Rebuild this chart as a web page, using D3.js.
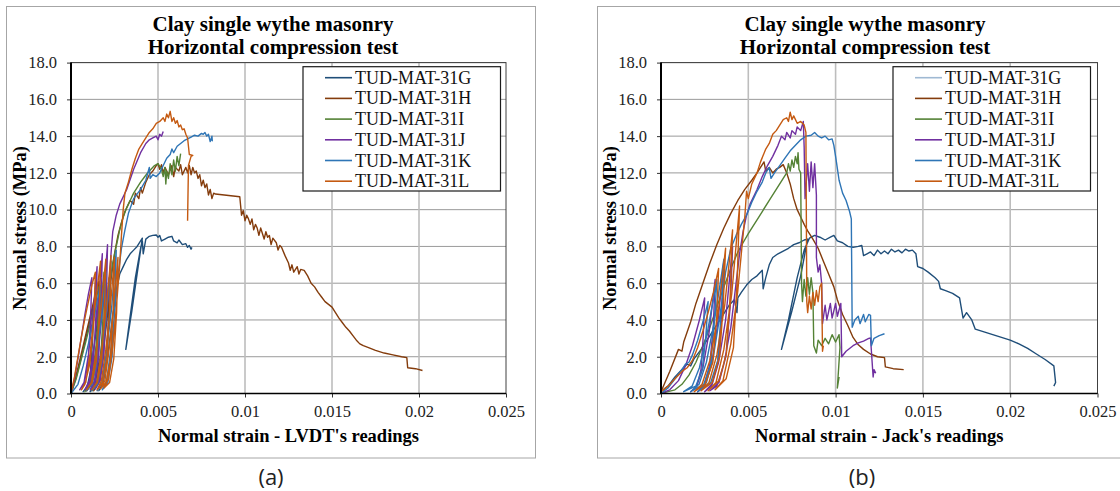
<!DOCTYPE html>
<html><head><meta charset="utf-8">
<script src="https://cdn.jsdelivr.net/npm/d3@7/dist/d3.min.js"></script>
<style>body{margin:0;background:#fff}svg{display:block}</style>
</head><body>
<svg id="c" width="1120" height="491"></svg>
<script>
// ---------- data ----------
const seriesNames = ["TUD-MAT-31G","TUD-MAT-31H","TUD-MAT-31I","TUD-MAT-31J","TUD-MAT-31K","TUD-MAT-31L"];
const seriesColors = ["#1f4e79","#843c0c","#548235","#7030a0","#2e75b6","#c55a11"];
const xTickValues = [0,0.005,0.01,0.015,0.02,0.025];
const xTickLabels = ["0","0.005","0.01","0.015","0.02","0.025"];
const yTickValues = [0,2,4,6,8,10,12,14,16,18];
const yTickLabels = ["0.0","2.0","4.0","6.0","8.0","10.0","12.0","14.0","16.0","18.0"];
const titleLines = ["Clay single wythe masonry","Horizontal compression test"];
const xTitles = ["Normal strain - LVDT's readings","Normal strain - Jack's readings"];
const yTitle = "Normal stress (MPa)";
const panelLabels = ["(a)","(b)"];

// (a) LVDT readings  [strain, stress MPa]
const a_G = [[0,0],[0.0003,0.9],[0.0006,2.0],[0.0009,3.2],[0.0011,4.0],[0.0013,4.8],[0.00124,2.9],[0.00112,1.2],[0.00094,0.4],[0.0007,0.1],[0.00095,0.4],[0.0012,1.6],[0.00145,3.4],[0.0017,5.6],[0.00164,3.4],[0.00152,1.4],[0.00134,0.45],[0.0011,0.1],[0.00138,0.5],[0.00165,1.8],[0.00193,3.8],[0.0022,6.3],[0.00214,3.8],[0.00202,1.6],[0.00184,0.5],[0.0016,0.15],[0.00185,0.6],[0.0021,2.0],[0.0024,4.2],[0.0026,5.6],[0.0028,6.5],[0.0030,6.9],[0.0032,7.3],[0.0034,7.6],[0.0036,7.8],[0.0038,8.0],[0.0040,8.3],[0.0041,8.45],[0.0038,6.5],[0.0035,4.5],[0.00315,2.4],[0.0034,4.2],[0.0037,6.3],[0.0040,7.9],[0.0041,8.3],[0.00415,7.6],[0.0043,8.4],[0.0045,8.55],[0.0047,8.6],[0.0049,8.62],[0.0050,8.5],[0.0051,8.6],[0.0052,8.3],[0.0054,8.4],[0.0056,8.5],[0.0058,8.55],[0.0059,8.3],[0.0061,8.2],[0.0062,8.35],[0.0064,8.1],[0.0066,8.15],[0.0067,7.95],[0.0068,8.05],[0.0069,7.85],[0.00695,7.95]];
const a_H = [[0,0],[0.0003,1.0],[0.0006,2.2],[0.0009,3.4],[0.0012,4.6],[0.0014,5.4],[0.0016,6.1],[0.00153,3.7],[0.00139,1.5],[0.00118,0.5],[0.0009,0.15],[0.00118,0.6],[0.00145,2.0],[0.00172,4.1],[0.0020,6.9],[0.00193,4.2],[0.00179,1.7],[0.00158,0.55],[0.0013,0.15],[0.00158,0.6],[0.00185,2.2],[0.0021,4.3],[0.0023,6.2],[0.0025,7.6],[0.0027,8.6],[0.0029,9.3],[0.0031,9.9],[0.0033,10.3],[0.0034,10.5],[0.0036,10.3],[0.0037,10.9],[0.0039,10.6],[0.0040,11.2],[0.0041,10.9],[0.0043,11.5],[0.0045,11.9],[0.0047,12.1],[0.0049,12.4],[0.0050,12.5],[0.0051,12.2],[0.0052,12.45],[0.0053,12.0],[0.0054,12.3],[0.0056,11.9],[0.0058,12.4],[0.0059,11.8],[0.0060,12.3],[0.0062,12.1],[0.0063,12.45],[0.0064,11.9],[0.0066,12.3],[0.0067,12.0],[0.0068,12.4],[0.0069,11.9],[0.0070,12.3],[0.0071,12.0],[0.0072,12.1],[0.0073,11.7],[0.0074,11.9],[0.0075,11.3],[0.0076,11.6],[0.0077,11.2],[0.0078,11.4],[0.0079,10.8],[0.0080,11.1],[0.0081,10.6],[0.0082,10.9],[0.0083,10.85],[0.0097,10.7],[0.0098,9.7],[0.0099,9.95],[0.0100,9.4],[0.0101,9.7],[0.0102,9.5],[0.0103,9.2],[0.0104,9.5],[0.0105,8.9],[0.0106,9.2],[0.0107,9.0],[0.0108,8.6],[0.0109,9.0],[0.0110,8.7],[0.0111,8.4],[0.0112,8.8],[0.0113,8.5],[0.0114,8.6],[0.0115,8.1],[0.0116,8.45],[0.0118,8.2],[0.0119,7.8],[0.0120,8.05],[0.0121,7.95],[0.0123,7.5],[0.0125,7.1],[0.0126,6.7],[0.0127,7.0],[0.0128,6.6],[0.0130,6.9],[0.0131,6.5],[0.0132,6.75],[0.0134,6.7],[0.0136,6.4],[0.0138,6.0],[0.0140,5.8],[0.0142,5.5],[0.0144,5.25],[0.0146,5.0],[0.0148,4.85],[0.0150,4.7],[0.0152,4.4],[0.0154,4.1],[0.0156,3.85],[0.0158,3.6],[0.0160,3.4],[0.0162,3.15],[0.0164,2.9],[0.0166,2.7],[0.0168,2.6],[0.0171,2.5],[0.0175,2.35],[0.0180,2.2],[0.0185,2.1],[0.0190,2.0],[0.0193,1.95],[0.01935,1.4],[0.0198,1.35],[0.0202,1.25]];
const a_I = [[0,0],[0.0003,0.8],[0.0006,1.9],[0.0009,3.0],[0.0012,4.2],[0.0014,5.0],[0.0016,5.8],[0.00152,3.5],[0.00136,1.4],[0.00112,0.45],[0.0008,0.1],[0.00108,0.5],[0.00135,1.9],[0.00163,3.9],[0.0019,6.6],[0.00183,4.0],[0.00169,1.6],[0.00148,0.5],[0.0012,0.15],[0.00148,0.6],[0.00175,2.1],[0.0020,4.1],[0.0022,5.8],[0.0024,7.1],[0.0026,8.0],[0.0028,8.9],[0.0030,9.6],[0.0032,10.1],[0.0034,10.5],[0.0036,10.9],[0.0038,11.2],[0.0040,11.5],[0.0042,11.75],[0.0044,12.0],[0.0046,12.2],[0.0048,12.4],[0.0050,12.5],[0.0052,12.2],[0.0053,11.8],[0.0054,12.3],[0.00545,11.4],[0.0055,12.1],[0.0056,11.7],[0.0057,12.5],[0.0058,11.9],[0.0059,12.7],[0.0060,12.1],[0.0061,12.9],[0.0062,12.4],[0.0063,13.05]];
const a_J = [[0,0],[0.0002,0.8],[0.0004,1.9],[0.0006,3.1],[0.0008,4.3],[0.0010,5.4],[0.0012,6.3],[0.00112,3.9],[0.00097,1.6],[0.00075,0.5],[0.0005,0.2],[0.00075,0.6],[0.0010,2.1],[0.00125,4.2],[0.0015,6.9],[0.00143,4.2],[0.00129,1.8],[0.00108,0.6],[0.0008,0.2],[0.00105,0.7],[0.0013,2.4],[0.00155,4.8],[0.0018,7.6],[0.00173,4.6],[0.00159,2.0],[0.00138,0.6],[0.0011,0.2],[0.00135,0.7],[0.0016,2.5],[0.00185,5.0],[0.0021,8.1],[0.00203,5.0],[0.00189,2.1],[0.00168,0.7],[0.0014,0.25],[0.00165,0.8],[0.0019,2.7],[0.00215,5.4],[0.0023,7.6],[0.0024,8.8],[0.0026,9.7],[0.0028,10.3],[0.0032,11.1],[0.0036,12.2],[0.0040,13.1],[0.0043,13.6],[0.0045,13.8],[0.0047,13.9],[0.0049,14.0],[0.0050,13.8],[0.0051,14.1],[0.0052,14.0],[0.0053,14.25]];
const a_K = [[0,0],[0.0004,0.5],[0.0007,1.5],[0.0010,2.7],[0.0013,4.0],[0.0015,5.0],[0.0017,5.9],[0.0016,3.6],[0.00145,1.5],[0.00122,0.5],[0.0009,0.15],[0.00118,0.5],[0.00145,1.9],[0.00172,3.9],[0.0020,6.6],[0.00192,4.0],[0.00176,1.7],[0.00152,0.5],[0.0012,0.15],[0.00148,0.6],[0.00175,2.1],[0.00203,4.3],[0.0023,7.2],[0.00222,4.4],[0.00206,1.8],[0.00182,0.6],[0.0015,0.15],[0.00178,0.6],[0.00205,2.3],[0.00233,4.6],[0.0026,7.8],[0.00252,4.7],[0.00236,2.0],[0.00212,0.6],[0.0018,0.2],[0.00205,0.7],[0.0023,2.5],[0.0025,4.3],[0.0027,6.4],[0.0029,7.9],[0.0031,8.9],[0.0033,9.8],[0.0036,10.6],[0.0040,11.1],[0.0043,11.6],[0.0045,12.3],[0.00455,11.7],[0.0047,11.9],[0.0049,11.8],[0.0051,12.0],[0.0053,12.4],[0.0055,12.8],[0.0057,13.0],[0.0058,13.3],[0.0059,13.1],[0.0061,13.45],[0.0063,13.6],[0.0065,13.75],[0.0067,13.85],[0.0069,13.95],[0.0071,14.05],[0.0073,14.0],[0.0075,14.15],[0.0076,14.1],[0.0077,14.2],[0.0078,14.0],[0.0079,14.1],[0.0080,13.7],[0.0081,14.0],[0.00812,13.75],[0.00805,13.9]];
const a_L = [[0,0],[0.0002,0.9],[0.0004,2.0],[0.0006,3.1],[0.0008,4.1],[0.0010,5.0],[0.0012,5.9],[0.0014,6.6],[0.00132,4.0],[0.0011,1.7],[0.0008,0.5],[0.0006,0.2],[0.00085,0.6],[0.0011,2.2],[0.00135,4.5],[0.0017,7.2],[0.00162,4.3],[0.00146,1.8],[0.00122,0.6],[0.0009,0.2],[0.00118,0.6],[0.00145,2.3],[0.00172,4.6],[0.0020,7.3],[0.00192,4.4],[0.00176,1.8],[0.00152,0.6],[0.0012,0.2],[0.00148,0.6],[0.00175,2.3],[0.00203,4.7],[0.0023,7.5],[0.00222,4.5],[0.00206,1.9],[0.00182,0.6],[0.0015,0.2],[0.00175,0.7],[0.0020,2.4],[0.00225,4.6],[0.0025,7.4],[0.00242,4.4],[0.00226,1.8],[0.00202,0.6],[0.0017,0.25],[0.00195,0.7],[0.0022,2.5],[0.00245,4.8],[0.0027,7.4],[0.00262,4.4],[0.00246,1.9],[0.00222,0.6],[0.0019,0.3],[0.00215,0.8],[0.0024,2.6],[0.0026,4.6],[0.0028,7.0],[0.0029,8.6],[0.0030,10.0],[0.0031,10.9],[0.0033,11.5],[0.0035,12.2],[0.0037,12.8],[0.0039,13.3],[0.0041,13.6],[0.0043,13.9],[0.0045,14.2],[0.0047,14.4],[0.0049,14.7],[0.0051,14.8],[0.0053,15.0],[0.0054,14.8],[0.0055,15.2],[0.0056,15.0],[0.0057,15.35],[0.0058,14.8],[0.0059,15.0],[0.0060,14.7],[0.0061,14.85],[0.0062,14.5],[0.0063,14.6],[0.0064,14.35],[0.0065,14.4],[0.0066,14.1],[0.0067,13.9],[0.0068,13.0],[0.0070,12.95],[0.0069,12.9],[0.00675,12.4],[0.0067,9.4]];

// (b) Jack's readings
const b_G = [[0,0.1],[0.0004,0.4],[0.0008,0.9],[0.0012,1.3],[0.0015,1.6],[0.0017,1.5],[0.0019,1.9],[0.0023,2.4],[0.0027,3.0],[0.0031,3.6],[0.0035,4.2],[0.0039,4.8],[0.0042,5.1],[0.00435,4.4],[0.0044,5.2],[0.0046,5.5],[0.0049,5.9],[0.0052,6.2],[0.0055,6.4],[0.0058,6.7],[0.00585,5.7],[0.0060,6.3],[0.0062,7.0],[0.0064,7.4],[0.0067,7.6],[0.0070,7.75],[0.0073,7.9],[0.0076,8.1],[0.0079,8.2],[0.0082,8.35],[0.0084,8.4],[0.0080,6.4],[0.0075,4.5],[0.0069,2.4],[0.0073,4.0],[0.0078,6.3],[0.0082,7.8],[0.0085,8.45],[0.0088,8.6],[0.0091,8.5],[0.0094,8.35],[0.0097,8.5],[0.0099,8.6],[0.0101,8.3],[0.0104,8.2],[0.0107,8.0],[0.0110,7.95],[0.0113,8.0],[0.0115,8.05],[0.0116,7.5],[0.0118,7.6],[0.0120,7.7],[0.0122,7.5],[0.0124,7.8],[0.0126,7.6],[0.0128,7.75],[0.0130,7.6],[0.0132,7.85],[0.0134,7.7],[0.0136,7.8],[0.0138,7.65],[0.0140,7.85],[0.0142,7.75],[0.0144,7.8],[0.0146,7.6],[0.0147,6.9],[0.0150,6.8],[0.0153,6.6],[0.0157,6.3],[0.0159,6.1],[0.0160,5.7],[0.0163,5.6],[0.0167,5.45],[0.0171,5.2],[0.0173,4.1],[0.0175,4.4],[0.0178,4.0],[0.0180,3.5],[0.0185,3.35],[0.0190,3.2],[0.0195,3.05],[0.0200,2.9],[0.0205,2.7],[0.0210,2.45],[0.0215,2.15],[0.0220,1.85],[0.0225,1.5],[0.0226,0.6],[0.0225,0.4]];
const b_H = [[0,0.1],[0.0005,1.2],[0.0010,2.4],[0.0012,2.3],[0.0013,2.8],[0.0017,3.9],[0.0020,4.9],[0.0024,6.0],[0.0028,7.1],[0.0032,8.1],[0.0036,9.0],[0.0040,9.8],[0.0044,10.5],[0.0048,11.1],[0.0052,11.6],[0.0055,12.0],[0.0057,12.3],[0.0059,12.6],[0.0060,12.1],[0.0062,12.3],[0.0064,12.0],[0.0066,12.2],[0.0068,12.3],[0.0070,12.45],[0.0072,12.0],[0.0074,11.4],[0.0076,10.6],[0.0078,10.0],[0.0080,9.6],[0.0082,9.2],[0.0084,8.85],[0.0087,8.4],[0.0090,7.9],[0.0093,7.2],[0.0096,6.5],[0.0099,5.8],[0.0101,5.1],[0.0104,4.3],[0.0107,3.7],[0.0110,3.05],[0.0113,2.65],[0.0116,2.4],[0.0120,2.15],[0.0124,2.0],[0.0128,1.95],[0.01285,1.45],[0.0133,1.35],[0.0139,1.3]];
const b_I = [[0,0],[0.0004,0.1],[0.0008,0.2],[0.0012,0.5],[0.0016,1.0],[0.0020,1.7],[0.0024,2.6],[0.0028,3.6],[0.0032,4.7],[0.0036,5.8],[0.0040,6.8],[0.0044,7.7],[0.0047,8.2],[0.0050,8.7],[0.0054,9.3],[0.0058,9.9],[0.0062,10.5],[0.0066,11.1],[0.0070,11.7],[0.0072,12.0],[0.0073,12.5],[0.0074,12.1],[0.0075,12.7],[0.0076,12.3],[0.0077,12.9],[0.0078,12.5],[0.00785,13.1],[0.0079,12.2],[0.0080,12.0],[0.00805,6.0],[0.0081,5.0],[0.0082,6.2],[0.0083,5.3],[0.0084,6.3],[0.0085,5.4],[0.0086,6.3],[0.0087,5.5],[0.00875,2.6],[0.0089,2.2],[0.0090,2.9],[0.0092,2.6],[0.0094,3.0],[0.0096,2.7],[0.0098,3.2],[0.0100,2.8],[0.0102,3.2],[0.01025,2.5],[0.0101,0.3],[0.0102,0.9]];
const b_J = [[0,0],[0.0005,0.2],[0.0010,0.7],[0.0014,1.5],[0.0018,2.6],[0.0022,4.0],[0.0025,5.2],[0.00242,3.1],[0.00229,1.3],[0.00206,0.4],[0.0017,0.1],[0.00205,0.4],[0.0024,1.4],[0.00275,3.3],[0.0031,6.2],[0.0030,3.7],[0.0028,1.6],[0.0025,0.5],[0.0021,0.1],[0.0025,0.4],[0.0029,1.6],[0.00325,3.8],[0.0036,7.2],[0.00349,4.3],[0.00327,1.8],[0.00294,0.55],[0.0025,0.1],[0.0029,0.4],[0.0033,1.7],[0.0037,4.0],[0.0041,8.0],[0.00397,4.8],[0.00371,2.0],[0.00332,0.6],[0.0028,0.15],[0.0032,0.4],[0.0036,1.6],[0.0040,3.6],[0.0043,6.0],[0.0045,7.6],[0.0047,8.8],[0.0049,9.7],[0.0051,10.3],[0.0055,11.1],[0.0058,11.8],[0.0061,12.4],[0.0064,12.9],[0.0067,13.5],[0.0069,14.0],[0.0071,13.8],[0.0072,14.2],[0.0074,13.9],[0.0075,14.3],[0.0077,14.1],[0.0078,14.5],[0.0080,14.3],[0.00815,14.8],[0.0082,13.4],[0.00825,10.6],[0.0084,12.5],[0.0085,11.0],[0.0086,12.6],[0.0087,11.2],[0.0088,12.5],[0.0089,10.8],[0.0089,7.4],[0.0090,6.6],[0.0091,7.0],[0.0092,6.0],[0.00925,3.8],[0.0094,4.8],[0.0095,4.0],[0.0097,4.9],[0.0098,4.1],[0.0100,4.9],[0.0101,4.2],[0.0103,4.9],[0.01035,2.0],[0.0106,2.3],[0.0108,2.45],[0.0110,2.6],[0.0113,2.75],[0.0116,2.85],[0.0119,3.0],[0.0120,3.02],[0.01215,0.9],[0.0122,1.3],[0.0123,1.1]];
const b_K = [[0,0],[0.0004,0.3],[0.0008,0.8],[0.0012,1.3],[0.0014,1.6],[0.0016,1.7],[0.0018,2.1],[0.0021,2.9],[0.0024,3.9],[0.0027,5.0],[0.00256,3.0],[0.00236,1.3],[0.00199,0.4],[0.0013,0.1],[0.00178,0.4],[0.0022,1.4],[0.00265,3.3],[0.0032,6.2],[0.00305,3.8],[0.00285,1.6],[0.00245,0.5],[0.0017,0.1],[0.00218,0.5],[0.0026,1.7],[0.00305,3.9],[0.0036,7.3],[0.00345,4.4],[0.00325,1.8],[0.00285,0.6],[0.0021,0.1],[0.0026,0.6],[0.0030,2.0],[0.0034,4.4],[0.0037,6.6],[0.0040,7.9],[0.0043,8.6],[0.0046,9.2],[0.0049,9.7],[0.0052,10.4],[0.0055,11.0],[0.0058,11.5],[0.0060,12.0],[0.0062,12.3],[0.0063,11.7],[0.0065,12.0],[0.0068,12.4],[0.0071,12.8],[0.0074,13.2],[0.0077,13.5],[0.0080,13.8],[0.0083,14.0],[0.0086,14.05],[0.0088,14.2],[0.0090,14.0],[0.0092,13.9],[0.0094,14.0],[0.0096,13.8],[0.0098,13.85],[0.0099,13.5],[0.0100,12.9],[0.0102,11.6],[0.0104,10.9],[0.0106,10.5],[0.0108,9.9],[0.0109,9.5],[0.01095,3.6],[0.0111,4.0],[0.0113,4.2],[0.0114,3.8],[0.0116,4.3],[0.0117,3.9],[0.0119,4.3],[0.0120,4.25],[0.01205,2.6],[0.0122,3.0],[0.0125,3.15],[0.0128,3.25]];
const b_L = [[0,0.1],[0.0004,0.4],[0.0008,0.8],[0.0012,1.2],[0.0015,1.4],[0.0018,1.8],[0.0021,2.5],[0.0024,3.4],[0.0027,4.4],[0.0030,5.5],[0.0033,6.8],[0.00319,4.1],[0.00297,1.7],[0.00253,0.5],[0.0019,0.1],[0.00235,0.5],[0.0028,1.8],[0.00325,4.2],[0.0037,7.9],[0.00356,4.7],[0.00335,2.0],[0.00293,0.6],[0.0023,0.15],[0.00275,0.6],[0.0032,2.1],[0.00365,4.8],[0.0041,8.9],[0.00396,5.3],[0.00375,2.2],[0.00333,0.7],[0.0027,0.15],[0.00315,0.6],[0.0036,2.4],[0.00405,5.4],[0.0045,10.2],[0.00436,6.1],[0.00415,2.5],[0.00373,0.8],[0.0031,0.2],[0.00355,0.7],[0.0040,2.7],[0.0044,5.6],[0.0046,7.6],[0.0048,9.6],[0.0049,11.0],[0.0050,10.6],[0.0052,11.4],[0.0055,12.0],[0.0057,12.6],[0.0060,13.3],[0.0062,13.6],[0.0064,14.1],[0.0066,14.3],[0.0068,14.6],[0.0070,14.9],[0.0072,15.0],[0.0073,14.8],[0.0074,15.3],[0.0075,14.9],[0.0076,15.1],[0.0078,14.7],[0.0080,14.8],[0.0082,14.6],[0.0083,14.2],[0.00835,5.0],[0.0084,4.4],[0.0085,5.3],[0.0086,4.6],[0.0087,5.5],[0.0088,4.8],[0.0089,5.6],[0.0090,5.0],[0.0091,5.8],[0.0092,6.0],[0.00925,2.3],[0.0093,2.6]];

const panelA = [a_G,a_H,a_I,a_J,a_K,a_L];
const panelB = [b_G,b_H,b_I,b_J,b_K,b_L];
const legendColorsB = ["#9fb9d3","#843c0c","#548235","#7030a0","#2e75b6","#c55a11"];

// ---------- drawing ----------
const svg = d3.select("#c");
const serif = "'Liberation Serif','Times New Roman',serif";

function panel(cfg){
  const g = svg.append("g");
  g.append("rect").attr("x",cfg.fx).attr("y",6.5).attr("width",cfg.fw).attr("height",451.5)
    .attr("fill","none").attr("stroke","#a6a6a6").attr("stroke-width",1);
  const x = d3.scaleLinear().domain([0,0.025]).range([cfg.pl,cfg.pr]);
  const y = d3.scaleLinear().domain([0,18]).range([393.5,62.6]);
  g.append("g").selectAll("line").data(yTickValues.slice(1)).join("line")
    .attr("x1",cfg.pl).attr("x2",cfg.pr).attr("y1",d=>y(d)).attr("y2",d=>y(d))
    .attr("stroke","#9a9a9a").attr("stroke-width",1);
  g.append("g").selectAll("line").data(xTickValues.slice(1,-1)).join("line")
    .attr("x1",d=>x(d)).attr("x2",d=>x(d)).attr("y1",y(18)).attr("y2",y(0))
    .attr("stroke","#bdbdbd").attr("stroke-width",1.6);
  g.append("rect").attr("x",cfg.pl).attr("y",y(18)).attr("width",cfg.pr-cfg.pl).attr("height",y(0)-y(18))
    .attr("fill","none").attr("stroke","#404040").attr("stroke-width",1);
  const ya = d3.axisLeft(y).tickValues(yTickValues).tickFormat((d,i)=>yTickLabels[i]).tickSize(4).tickPadding(10);
  const xa = d3.axisBottom(x).tickValues(xTickValues).tickFormat((d,i)=>xTickLabels[i]).tickSize(4).tickPadding(8);
  const yg = g.append("g").attr("transform",`translate(${cfg.pl},0)`).call(ya);
  const xg = g.append("g").attr("transform",`translate(0,${y(0)})`).call(xa);
  [yg,xg].forEach(a=>{
    a.select(".domain").remove();
    a.selectAll("line").attr("stroke","#333");
    a.selectAll("text").attr("font-family",serif).attr("font-size",16.5).attr("fill","#222");
  });
  const line = d3.line().x(d=>x(d[0])).y(d=>y(d[1]));
  cfg.data.forEach((s,i)=>{
    g.append("path").datum(s).attr("d",line).attr("fill","none")
      .attr("stroke",seriesColors[i]).attr("stroke-width",1.4).attr("stroke-linejoin","round");
  });
  g.append("line").attr("x1",cfg.pl).attr("x2",cfg.pl).attr("y1",y(18)).attr("y2",y(0)+0.5)
    .attr("stroke","#000").attr("stroke-width",2);
  g.append("line").attr("x1",cfg.pl).attr("x2",cfg.pr).attr("y1",y(0)).attr("y2",y(0))
    .attr("stroke","#000").attr("stroke-width",1.5);
  titleLines.forEach((t,i)=>{
    g.append("text").attr("x",cfg.tc).attr("y",31+i*23).attr("text-anchor","middle")
      .attr("font-family",serif).attr("font-weight","bold").attr("font-size",21).attr("fill","#000").text(t);
  });
  g.append("text").attr("x",(cfg.pl+cfg.pr)/2).attr("y",442).attr("text-anchor","middle")
    .attr("font-family",serif).attr("font-weight","bold").attr("font-size",18.5).text(cfg.xt);
  g.append("text").attr("transform",`translate(${cfg.pl-45},${(y(0)+y(18))/2}) rotate(-90)`)
    .attr("text-anchor","middle").attr("font-family",serif).attr("font-weight","bold").attr("font-size",18.5).text(yTitle);
  const lx = cfg.pl+232, ly = 66.7;
  const lg = g.append("g");
  lg.append("rect").attr("x",lx).attr("y",ly).attr("width",197.5).attr("height",124.3)
    .attr("fill","#fff").attr("stroke","#1a1a1a").attr("stroke-width",1.2);
  seriesNames.forEach((n,i)=>{
    const cy = 77.7 + i*20.7;
    lg.append("line").attr("x1",cfg.pl+254).attr("x2",cfg.pl+281).attr("y1",cy).attr("y2",cy)
      .attr("stroke",cfg.lc[i]).attr("stroke-width",1.6);
    lg.append("text").attr("x",cfg.pl+284).attr("y",cy+6).attr("font-family",serif)
      .attr("font-size",18).attr("fill","#111").text(n);
  });
  g.append("text").attr("x",cfg.lab).attr("y",485).attr("text-anchor","middle")
    .attr("font-family","'Open Sans','DejaVu Sans',sans-serif").attr("font-size",22).attr("fill","#222").text(cfg.label);
}

panel({fx:6.5,fw:529,pl:71,pr:506,tc:273,xt:xTitles[0],data:panelA,lc:seriesColors,lab:271,label:panelLabels[0]});
panel({fx:597.5,fw:535,pl:661,pr:1097.5,tc:865,xt:xTitles[1],data:panelB,lc:legendColorsB,lab:862,label:panelLabels[1]});
</script>
</body></html>
